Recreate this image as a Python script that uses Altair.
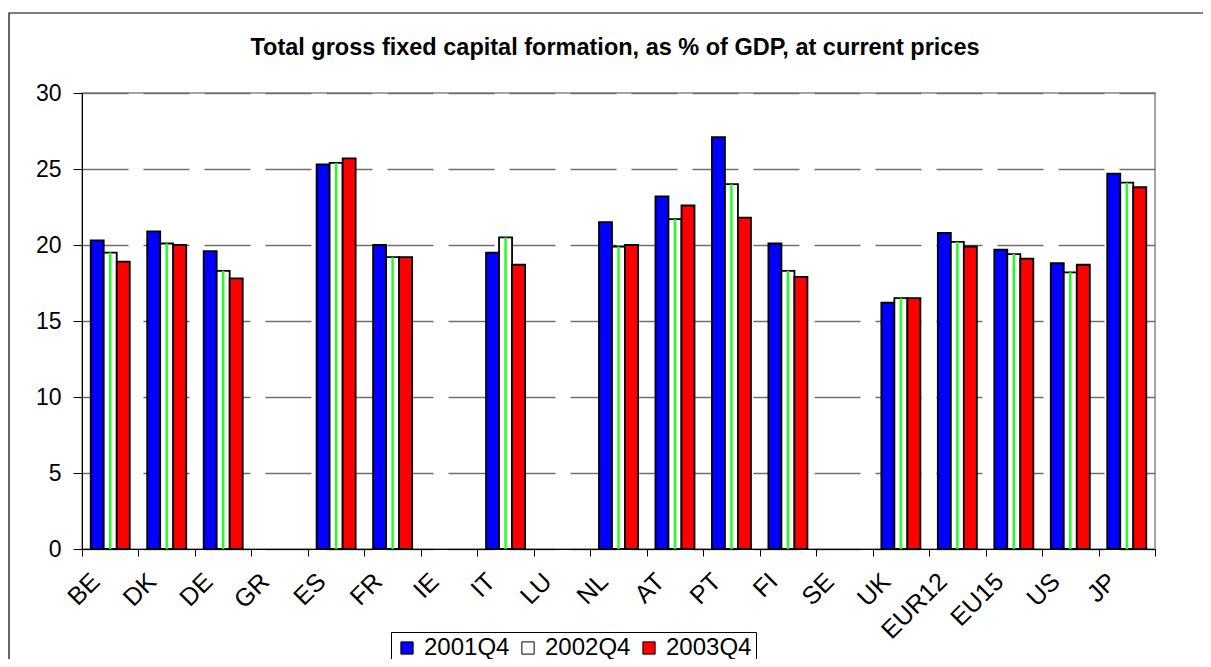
import altair as alt
import pandas as pd

countries = ["BE", "DK", "DE", "GR", "ES", "FR", "IE", "IT", "LU", "NL",
             "AT", "PT", "FI", "SE", "UK", "EUR12", "EU15", "US", "JP"]
series = ["2001Q4", "2002Q4", "2003Q4"]
v2001 = [20.3, 20.9, 19.6, None, 25.3, 20.0, None, 19.5, None, 21.5,
         23.2, 27.1, 20.1, None, 16.2, 20.8, 19.7, 18.8, 24.7]
v2002 = [19.5, 20.1, 18.3, None, 25.4, 19.2, None, 20.5, None, 19.9,
         21.7, 24.0, 18.3, None, 16.5, 20.2, 19.4, 18.2, 24.1]
v2003 = [18.9, 20.0, 17.8, None, 25.7, 19.2, None, 18.7, None, 20.0,
         22.6, 21.8, 17.9, None, 16.5, 19.9, 19.1, 18.7, 23.8]
fills = ["#0000FF", "#FFFFFF", "#FF0000"]
title_text = ["Total gross fixed capital formation, as % of GDP, at current prices"]

rows = []
for s, vals in zip(series, [v2001, v2002, v2003]):
    for c, v in zip(countries, vals):
        if v is not None:
            rows.append({"country": c, "series": s, "value": v})
df = pd.DataFrame(rows)

FONT = "Liberation Sans"

x_enc = alt.X("country:N", sort=countries,
              scale=alt.Scale(domain=countries, paddingInner=0, paddingOuter=0),
              axis=alt.Axis(title=None, labelAngle=-45, labelAlign="right",
                            labelBaseline="middle", labelFontSize=25, labelFont=FONT,
                            labelColor="black", tickBand="extent", tickSize=7,
                            tickColor="black", domainColor="black", labelPadding=21,
                            labelOffset=-15, grid=False))
xo_enc = alt.XOffset("series:N", sort=series,
                     scale=alt.Scale(domain=series, paddingOuter=0.67, paddingInner=0))
y_enc = alt.Y("value:Q",
              scale=alt.Scale(domain=[0, 30], nice=False),
              axis=alt.Axis(title=None, values=[0, 5, 10, 15, 20, 25, 30],
                            labelFontSize=23, labelFont=FONT, labelColor="black",
                            tickSize=9, tickColor="black", domainColor="black",
                            labelPadding=12, grid=True, gridColor="#707070",
                            gridDash=[46, 15], gridWidth=1.3))

bars = alt.Chart(df).mark_bar(stroke="black", strokeWidth=1.8).encode(
    x=x_enc, xOffset=xo_enc, y=y_enc,
    fill=alt.Fill("series:N", sort=series,
                  scale=alt.Scale(domain=series, range=fills),
                  legend=alt.Legend(title=None, orient="none", legendX=309, legendY=539,
                                    direction="horizontal", symbolType="square",
                                    symbolSize=150, symbolStrokeColor="black",
                                    symbolStrokeWidth=1, labelFontSize=24, labelFont=FONT,
                                    labelColor="black", labelOffset=5, columnPadding=6,
                                    padding=4, strokeColor="black", fillColor="white")),
)

stripes = alt.Chart(df[df["series"] == "2002Q4"]).mark_bar(
    size=2.5, color="#22FF22").encode(x=x_enc, xOffset=xo_enc, y=y_enc)

frame = alt.Chart(alt.Data(values=[{"a": 1}])).mark_rect(
    fill="transparent", stroke="black", strokeWidth=1.2).encode(
    x=alt.value(-73), x2=alt.value(1300), y=alt.value(-80), y2=alt.value(800))

title = alt.Chart(pd.DataFrame({"t": title_text})).mark_text(
    font=FONT, fontSize=23.5, fontWeight="bold", color="black", align="center",
    baseline="alphabetic").encode(x=alt.value(533), y=alt.value(-38), text="t:N")

chart = alt.layer(frame, bars, stripes, title).properties(
    width=1073, height=456,
    autosize=alt.AutoSizeParams(type="none"),
    padding={"left": 74, "top": 85, "right": 48, "bottom": 110},
).configure_view(stroke="#888888", strokeWidth=1.5)

chart.save("out.html", embed_options={"renderer": "svg", "actions": False})
